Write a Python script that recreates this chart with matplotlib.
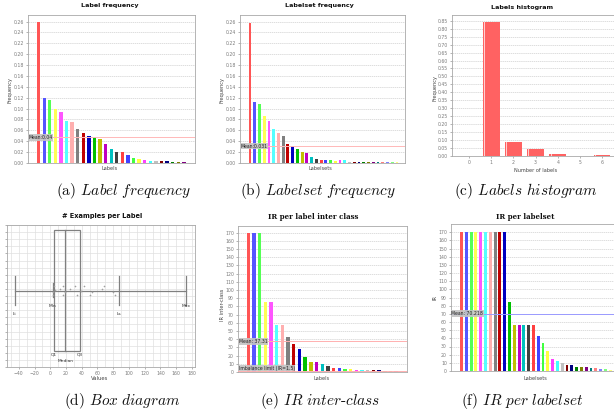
import matplotlib
matplotlib.use('Agg')
import matplotlib.pyplot as plt
import numpy as np

plt.rcParams['mathtext.fontset'] = 'cm'

W, H = 614, 412

# JFreeChart default paint sequence
palette = ['#FF5555', '#5555FF', '#55FF55', '#FFFF55', '#FF55FF', '#55FFFF', '#FFAFAF', '#808080',
           '#C00000', '#0000C0', '#00C000', '#C0C000', '#C000C0', '#00C0C0', '#404040', '#FF4040',
           '#4040FF', '#40FF40', '#FFFF40', '#FF40FF', '#40FFFF', '#C0C0C0', '#800000', '#000080',
           '#008000', '#808000', '#800080', '#008080', '#FF8080', '#8080FF', '#80FF80', '#FFFF80',
           '#FF80FF', '#80FFFF']

# (a) Label frequency
label_freq = [0.259, 0.120, 0.116, 0.100, 0.094, 0.078, 0.075, 0.062, 0.055, 0.050, 0.047, 0.044,
              0.035, 0.026, 0.021, 0.021, 0.014, 0.010, 0.007, 0.006, 0.004, 0.004, 0.003, 0.003,
              0.002, 0.002, 0.002]
label_freq_mean = 0.047
label_freq_mean_txt = "Mean:0.04"
freq_ticks = [0.00, 0.02, 0.04, 0.06, 0.08, 0.10, 0.12, 0.14, 0.16, 0.18, 0.20, 0.22, 0.24, 0.26]

# (b) Labelset frequency
labelset_freq = [0.257, 0.112, 0.108, 0.087, 0.078, 0.062, 0.056, 0.049, 0.035, 0.032, 0.026, 0.021,
                 0.018, 0.011, 0.008, 0.006, 0.005, 0.005, 0.004, 0.005, 0.005, 0.002, 0.002, 0.002,
                 0.002, 0.002, 0.002, 0.002, 0.002, 0.0015, 0.0015, 0.0015]
labelset_freq_mean = 0.031
labelset_freq_mean_txt = "Mean:0.031"

# (c) Labels histogram
hist_x = [0, 1, 2, 3, 4, 5, 6]
hist_freq = [0.0, 0.844, 0.085, 0.046, 0.011, 0.003, 0.004]
hist_ticks = [0.00, 0.05, 0.10, 0.15, 0.20, 0.25, 0.30, 0.35, 0.40, 0.45, 0.50, 0.55, 0.60, 0.65,
              0.70, 0.75, 0.80, 0.85]

# (d) Box diagram
box_li, box_min, box_q1, box_median, box_q3, box_ls, box_max = -45, 3, 4.5, 19, 37.5, 87, 173
pts_x = [4.7, 16, 31, 43, 68.6, 5.6, 12, 25.6, 3.4, 19, 39, 52.6, 65.4, 3.4, 16, 34, 50.3, 80, 82]
pts_y = [0.569, 0.569, 0.569, 0.569, 0.569, 0.541, 0.548, 0.548, 0.525, 0.525, 0.536, 0.525, 0.548,
         0.506, 0.506, 0.506, 0.506, 0.525, 0.506]
box_xticks = [-40, -20, 0, 20, 40, 60, 80, 100, 120, 140, 160, 180]

# (e) IR per label inter class
ir_inter = [170, 170, 170, 85, 85, 56.7, 56.7, 42.5, 34, 27.5, 18.2, 12, 12, 9.3, 6.9, 5.3, 4.9, 4.0,
            3.6, 2.8, 2.4, 2.0, 2.0, 2.0, 1.6, 1.2, 1.0]
ir_inter_mean = 37.31
ir_limit = 1.5
ir_ticks = list(range(0, 171, 10))

# (f) IR per labelset
ir_labelset = [170, 170, 170, 170, 170, 170, 170, 170, 170, 170, 85, 56.7, 56.7, 56.7, 56.7, 56.7,
               42.5, 34, 24.3, 14.2, 12.1, 9.3, 7.7, 7.3, 5.3, 4.9, 4.5, 3.6, 3.2, 2.8, 2.0, 0.8]
ir_labelset_mean = 70.218

TICK_C = '#7a7a7a'
LAB_C = '#444444'
GRID_C = '#d0d0d0'
SPINE_C = '#a8a8a8'

fig = plt.figure(figsize=(W / 100, H / 100), dpi=100)


def add_ax(l, t, r, b):
    return fig.add_axes([l / W, 1 - b / H, (r - l) / W, (b - t) / H])


def style(ax):
    for s in ax.spines.values():
        s.set_color(SPINE_C)
        s.set_linewidth(0.6)
    ax.tick_params(axis='both', labelsize=3.3, colors=TICK_C, length=1.5, width=0.4, pad=1.5)


def ftext(x, y, s, **kw):
    fig.text(x / W, 1 - y / H, s, **kw)


def bars(ax, vals, width=0.6, lo=1.9, hi=2.0):
    x = np.arange(len(vals))
    cols = [palette[i % len(palette)] for i in range(len(vals))]
    ax.bar(x, vals, width=width, color=cols, zorder=3, linewidth=0)
    ax.set_xlim(-lo, len(vals) - 1 + hi)
    ax.set_xticks([])
    ax.yaxis.grid(True, color=GRID_C, linewidth=0.5, linestyle=(0, (2, 1)), zorder=0)
    ax.set_axisbelow(True)


def marker(ax, y, txt, color, va='center'):
    ax.axhline(y, color=color, linewidth=0.7, zorder=4)
    ax.text(0.003, y, txt, transform=ax.get_yaxis_transform(), fontsize=3.3, color='#202020',
            ha='left', va=va, zorder=5,
            bbox=dict(boxstyle='square,pad=0.15', facecolor='#c4c4c4', edgecolor='none', alpha=0.9))


# ---------- (a)
ax = add_ax(28, 15, 195, 163)
style(ax)
bars(ax, label_freq, lo=1.9, hi=2.0)
ax.set_ylim(0, 0.272)
ax.set_yticks(freq_ticks)
ax.set_yticklabels([f"{v:.2f}" for v in freq_ticks])
marker(ax, label_freq_mean, label_freq_mean_txt, '#ffb8b8')
ftext(110, 6, "Label frequency", fontsize=4.6, fontweight='bold', ha='center', va='center', color='#111111')
ftext(110, 169, "Labels", fontsize=3.6, ha='center', va='center', color=LAB_C)
ftext(10, 90, "Frequency", fontsize=3.6, ha='center', va='center', rotation=90, color=LAB_C)

# ---------- (b)
ax = add_ax(240, 15, 405, 163)
style(ax)
bars(ax, labelset_freq, width=0.6, lo=2.1, hi=1.7)
ax.set_ylim(0, 0.272)
ax.set_yticks(freq_ticks)
ax.set_yticklabels([f"{v:.2f}" for v in freq_ticks])
marker(ax, labelset_freq_mean, labelset_freq_mean_txt, '#ffb8b8')
ftext(319, 6, "Labelset frequency", fontsize=4.6, fontweight='bold', ha='center', va='center', color='#111111')
ftext(320, 169, "Labelsets", fontsize=3.6, ha='center', va='center', color=LAB_C)
ftext(222, 90, "Frequency", fontsize=3.6, ha='center', va='center', rotation=90, color=LAB_C)

# ---------- (c)
ax = add_ax(452, 15, 614, 156)
style(ax)
ax.spines['right'].set_visible(False)
ax.bar(hist_x, hist_freq, width=0.76, color='#FF6262', linewidth=0, zorder=3)
ax.bar(np.array(hist_x) - 0.3, hist_freq, width=0.05, color='#ffd0d0', linewidth=0, zorder=4)
ax.set_xlim(-0.77, 6.54)
ax.set_ylim(0, 0.886)
ax.set_yticks(hist_ticks)
ax.set_yticklabels([f"{v:.2f}" for v in hist_ticks])
ax.set_xticks(hist_x)
ax.yaxis.grid(True, color=GRID_C, linewidth=0.5, linestyle=(0, (2, 1)), zorder=0)
ax.set_axisbelow(True)
ftext(522, 7, "Labels histogram", fontsize=4.6, fontweight='bold', ha='center', va='center', color='#111111')
ftext(536, 171, "Number of labels", fontsize=3.6, ha='center', va='center', color=LAB_C)
ftext(435, 88, "Frequency", fontsize=3.6, ha='center', va='center', rotation=90, color=LAB_C)

# ---------- (d)
ax = add_ax(7, 225, 195, 367)
style(ax)
ax.set_xlim(-55, 184)
ax.set_ylim(0, 1)
ax.set_xticks(box_xticks)
ax.set_xticks(np.arange(-50, 181, 10), minor=True)
ax.set_yticks(np.arange(0, 1.001, 0.05))
ax.set_yticklabels([])
ax.tick_params(axis='x', which='minor', length=0)
ax.xaxis.grid(True, which='both', color='#e0e0e0', linewidth=0.5)
ax.yaxis.grid(True, color='#e0e0e0', linewidth=0.5)
ax.set_axisbelow(True)
BC = '#808080'
yc = 0.537
ax.plot([box_li, box_max], [yc, yc], color=BC, lw=0.9, zorder=3)
for xv in (box_li, box_ls, box_max):
    ax.plot([xv, xv], [0.435, 0.64], color=BC, lw=0.9, zorder=3)
ax.plot([box_min, box_min], [0.49, 0.59], color=BC, lw=0.9, zorder=3)
ax.add_patch(plt.Rectangle((box_q1, 0.113), box_q3 - box_q1, 0.965 - 0.113, fill=False,
                           edgecolor=BC, lw=0.9, zorder=3))
ax.plot([box_median, box_median], [0.113, 0.965], color=BC, lw=0.9, zorder=3)
ax.scatter(pts_x, pts_y, marker='+', s=4, color='#a0a0a0', linewidths=0.4, zorder=4)
for xv, yv, t in [(box_li, 0.376, "Li"), (box_min, 0.43, "Min"), (box_ls, 0.376, "Ls"),
                  (box_max, 0.43, "Max"), (box_q1, 0.09, "Q1"), (box_q3, 0.09, "Q3"),
                  (box_median, 0.045, "Median")]:
    ax.text(xv, yv, t, fontsize=3.2, color='#333333', ha='center', va='center')
ftext(102, 216, "# Examples per Label", fontsize=4.8, fontweight='bold', ha='center', va='center', color='#111111')
ftext(100, 378, "Values", fontsize=3.8, ha='center', va='center', color=LAB_C)

# ---------- (e)
ax = add_ax(238, 226, 407, 372)
style(ax)
bars(ax, ir_inter, width=0.6, lo=1.8, hi=1.9)
ax.set_ylim(0, 178)
ax.set_yticks(ir_ticks)
marker(ax, ir_inter_mean, "Mean: 37.31", '#ffb0b0')
marker(ax, ir_limit, "Imbalance limit (IR=1.5)", '#ffb0b0', va='bottom')
ftext(313, 217, "IR per label inter class", fontsize=5.0, fontweight='bold', family='DejaVu Serif',
      ha='center', va='center', color='#111111')
ftext(322, 378, "Labels", fontsize=3.6, ha='center', va='center', color=LAB_C)
ftext(222, 305, "IR inter-class", fontsize=3.6, ha='center', va='center', rotation=90, color=LAB_C)

# ---------- (f)
ax = add_ax(451, 224, 614, 371)
style(ax)
ax.spines['right'].set_visible(False)
bars(ax, ir_labelset, width=0.6, lo=2.2, hi=0.8)
ax.set_ylim(0, 180)
ax.set_yticks(ir_ticks)
marker(ax, ir_labelset_mean, "Mean: 70.218", '#9a9aff')
ftext(525, 217, "IR per labelset", fontsize=5.0, fontweight='bold', family='DejaVu Serif',
      ha='center', va='center', color='#111111')
ftext(535, 378, "Labelsets", fontsize=3.6, ha='center', va='center', color=LAB_C)
ftext(435, 297, "IR", fontsize=3.6, ha='center', va='center', rotation=90, color=LAB_C)

# ---------- captions
cap_kw = dict(fontsize=11, family='cmr10', ha='center', va='center', color='#111111')
ftext(124, 191, r"(a) $\mathit{Label\ frequency}$", **cap_kw)
ftext(318, 191, r"(b) $\mathit{Labelset\ frequency}$", **cap_kw)
ftext(526, 191, r"(c) $\mathit{Labels\ histogram}$", **cap_kw)
ftext(122, 401, r"(d) $\mathit{Box\ diagram}$", **cap_kw)
ftext(320, 401, r"(e) $\mathit{IR\ inter}$-$\mathit{class}$", **cap_kw)
ftext(522, 401, r"(f) $\mathit{IR\ per\ labelset}$", **cap_kw)

fig.savefig('out.png', dpi=100)
